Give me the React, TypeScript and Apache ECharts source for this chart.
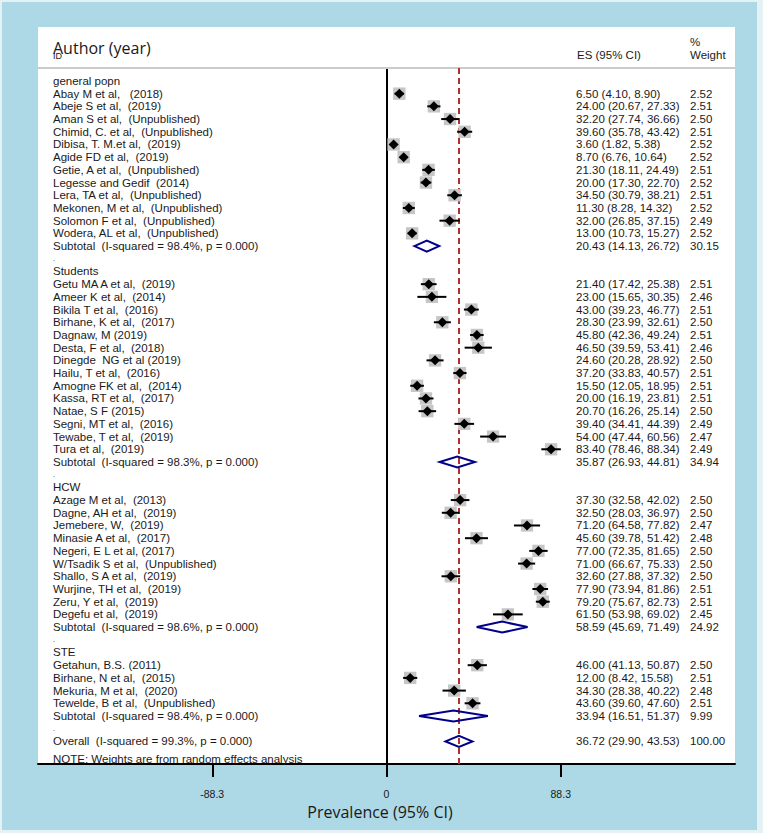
import React, { useEffect, useRef } from "react";
import * as echarts from "echarts";

type Study = [string, number, number, number, number]; // label, ES, lower, upper, weight

const groupNames = ["general popn", "Students", "HCW", "STE"];

const generalStudies: Study[] = [
  ["Abay M et al,   (2018)", 6.5, 4.1, 8.9, 2.52],
  ["Abeje S et al,  (2019)", 24.0, 20.67, 27.33, 2.51],
  ["Aman S et al,  (Unpublished)", 32.2, 27.74, 36.66, 2.5],
  ["Chimid, C. et al,  (Unpublished)", 39.6, 35.78, 43.42, 2.51],
  ["Dibisa, T. M.et al,  (2019)", 3.6, 1.82, 5.38, 2.52],
  ["Agide FD et al,  (2019)", 8.7, 6.76, 10.64, 2.52],
  ["Getie, A et al,  (Unpublished)", 21.3, 18.11, 24.49, 2.51],
  ["Legesse and Gedif  (2014)", 20.0, 17.3, 22.7, 2.52],
  ["Lera, TA et al,  (Unpublished)", 34.5, 30.79, 38.21, 2.51],
  ["Mekonen, M et al,  (Unpublished)", 11.3, 8.28, 14.32, 2.52],
  ["Solomon F et al,  (Unpublished)", 32.0, 26.85, 37.15, 2.49],
  ["Wodera, AL et al,  (Unpublished)", 13.0, 10.73, 15.27, 2.52],
];

const studentStudies: Study[] = [
  ["Getu MA A et al,  (2019)", 21.4, 17.42, 25.38, 2.51],
  ["Ameer K et al,  (2014)", 23.0, 15.65, 30.35, 2.46],
  ["Bikila T et al,  (2016)", 43.0, 39.23, 46.77, 2.51],
  ["Birhane, K et al,  (2017)", 28.3, 23.99, 32.61, 2.5],
  ["Dagnaw, M (2019)", 45.8, 42.36, 49.24, 2.51],
  ["Desta, F et al,  (2018)", 46.5, 39.59, 53.41, 2.46],
  ["Dinegde  NG et al (2019)", 24.6, 20.28, 28.92, 2.5],
  ["Hailu, T et al,  (2016)", 37.2, 33.83, 40.57, 2.51],
  ["Amogne FK et al,  (2014)", 15.5, 12.05, 18.95, 2.51],
  ["Kassa, RT et al,  (2017)", 20.0, 16.19, 23.81, 2.51],
  ["Natae, S F (2015)", 20.7, 16.26, 25.14, 2.5],
  ["Segni, MT et al,  (2016)", 39.4, 34.41, 44.39, 2.49],
  ["Tewabe, T et al,  (2019)", 54.0, 47.44, 60.56, 2.47],
  ["Tura et al,  (2019)", 83.4, 78.46, 88.34, 2.49],
];

const hcwStudies: Study[] = [
  ["Azage M et al,  (2013)", 37.3, 32.58, 42.02, 2.5],
  ["Dagne, AH et al,  (2019)", 32.5, 28.03, 36.97, 2.5],
  ["Jemebere, W,  (2019)", 71.2, 64.58, 77.82, 2.47],
  ["Minasie A et al,  (2017)", 45.6, 39.78, 51.42, 2.48],
  ["Negeri, E L et al, (2017)", 77.0, 72.35, 81.65, 2.5],
  ["W/Tsadik S et al,  (Unpublished)", 71.0, 66.67, 75.33, 2.5],
  ["Shallo, S A et al,  (2019)", 32.6, 27.88, 37.32, 2.5],
  ["Wurjine, TH et al,  (2019)", 77.9, 73.94, 81.86, 2.51],
  ["Zeru, Y et al,  (2019)", 79.2, 75.67, 82.73, 2.51],
  ["Degefu et al,  (2019)", 61.5, 53.98, 69.02, 2.45],
];

const steStudies: Study[] = [
  ["Getahun, B.S. (2011)", 46.0, 41.13, 50.87, 2.5],
  ["Birhane, N et al,  (2015)", 12.0, 8.42, 15.58, 2.51],
  ["Mekuria, M et al,  (2020)", 34.3, 28.38, 40.22, 2.48],
  ["Tewelde, B et al,  (Unpublished)", 43.6, 39.6, 47.6, 2.51],
];

// I-squared, ES, lower, upper, weight
const subtotals: [number, number, number, number, number][] = [
  [98.4, 20.43, 14.13, 26.72, 30.15],
  [98.3, 35.87, 26.93, 44.81, 34.94],
  [98.6, 58.59, 45.69, 71.49, 24.92],
  [98.4, 33.94, 16.51, 51.37, 9.99],
];

const overall: [number, number, number, number, number] = [99.3, 36.72, 29.9, 43.53, 100.0];

const xTicks = [-88.3, 0, 88.3];
const noteText = "NOTE: Weights are from random effects analysis";

type Row = {
  kind: "group" | "study" | "sub" | "sep" | "overall" | "note";
  label: string;
  pos: number;
  es?: number;
  lo?: number;
  hi?: number;
  w?: number;
};

function buildRows(): Row[] {
  const groups = [generalStudies, studentStudies, hcwStudies, steStudies];
  const rows: Row[] = [];
  let pos = 0;
  groups.forEach((studies, gi) => {
    rows.push({ kind: "group", label: groupNames[gi], pos: pos++ });
    studies.forEach((s) =>
      rows.push({ kind: "study", label: s[0], es: s[1], lo: s[2], hi: s[3], w: s[4], pos: pos++ })
    );
    const st = subtotals[gi];
    rows.push({
      kind: "sub",
      label: `Subtotal  (I-squared = ${st[0].toFixed(1)}%, p = 0.000)`,
      es: st[1],
      lo: st[2],
      hi: st[3],
      w: st[4],
      pos: pos++,
    });
    rows.push({ kind: "sep", label: ".", pos: pos++ });
  });
  rows.push({
    kind: "overall",
    label: `Overall  (I-squared = ${overall[0].toFixed(1)}%, p = 0.000)`,
    es: overall[1],
    lo: overall[2],
    hi: overall[3],
    w: overall[4],
    pos: pos++,
  });
  rows.push({ kind: "note", label: noteText, pos: pos + 0.35 });
  return rows;
}

const BODY_FONT = '"Liberation Sans", Arial, Helvetica, sans-serif';
const TITLE_FONT = '"Open Sans", "Noto Sans", sans-serif';
const TEXT_COLOR = "#1a1a1a";

export default function App() {
  const ref = useRef<HTMLDivElement>(null);

  useEffect(() => {
    if (!ref.current) return;
    const chart = echarts.init(ref.current, undefined, { renderer: "svg" });
    const rows = buildRows();

    const renderItem = (params: any, api: any) => {
      const r = rows[params.dataIndex];
      const y = api.coord([0, r.pos])[1];
      const children: any[] = [];
      children.push({
        type: "text",
        x: 53,
        y,
        z2: 5,
        style: {
          text: r.label,
          fill: TEXT_COLOR,
          fontSize: r.kind === "sep" ? 7 : 11.5,
          fontFamily: BODY_FONT,
          verticalAlign: "middle",
          align: "left",
        },
      });
      if (r.es !== undefined && r.lo !== undefined && r.hi !== undefined && r.w !== undefined) {
        const cx = api.coord([r.es, r.pos])[0];
        const xl = api.coord([r.lo, r.pos])[0];
        const xh = api.coord([r.hi, r.pos])[0];
        if (r.kind === "study") {
          const s = Math.sqrt(r.w) * 7.8;
          children.push({
            type: "rect",
            z2: 1,
            shape: { x: cx - s / 2, y: y - s / 2, width: s, height: s },
            style: { fill: "#c6c6c6" },
          });
          children.push({
            type: "line",
            z2: 2,
            shape: { x1: xl, y1: y, x2: xh, y2: y },
            style: { stroke: "#000", lineWidth: 2 },
          });
          const d = 5;
          children.push({
            type: "polygon",
            z2: 3,
            shape: { points: [[cx - d, y], [cx, y - d], [cx + d, y], [cx, y + d]] },
            style: { fill: "#000" },
          });
        } else {
          const h = 5.5;
          children.push({
            type: "polygon",
            z2: 3,
            shape: { points: [[xl, y], [cx, y - h], [xh, y], [cx, y + h]] },
            style: { fill: "none", stroke: "#00008b", lineWidth: 2 },
          });
        }
        children.push({
          type: "text",
          x: 576,
          y,
          style: {
            text: `${r.es.toFixed(2)} (${r.lo.toFixed(2)}, ${r.hi.toFixed(2)})`,
            fill: TEXT_COLOR,
            fontSize: 11.5,
            fontFamily: BODY_FONT,
            verticalAlign: "middle",
            align: "left",
          },
        });
        children.push({
          type: "text",
          x: 690,
          y,
          style: {
            text: r.w.toFixed(2),
            fill: TEXT_COLOR,
            fontSize: 11.5,
            fontFamily: BODY_FONT,
            verticalAlign: "middle",
            align: "left",
          },
        });
      }
      return { type: "group", children };
    };

    const option: any = {
      animation: false,
      backgroundColor: "#e4f2f6",
      graphic: [
        { type: "rect", z: -10, shape: { x: 2, y: 2, width: 755, height: 828 }, style: { fill: "#add8e6" } },
        { type: "rect", z: -9, shape: { x: 38, y: 27, width: 697, height: 737 }, style: { fill: "#ffffff" } },
        { type: "line", z: 1, shape: { x1: 38, y1: 68, x2: 735, y2: 68 }, style: { stroke: "#cccccc", lineWidth: 2 } },
        {
          type: "text",
          x: 53,
          y: 48,
          style: { text: "Author (year)", fill: TEXT_COLOR, fontSize: 16, fontFamily: TITLE_FONT, verticalAlign: "middle" },
        },
        {
          type: "text",
          x: 53,
          y: 56,
          style: { text: "ID", fill: TEXT_COLOR, fontSize: 9, fontFamily: BODY_FONT, verticalAlign: "middle" },
        },
        {
          type: "text",
          x: 577,
          y: 55,
          style: { text: "ES (95% CI)", fill: TEXT_COLOR, fontSize: 11.5, fontFamily: BODY_FONT, verticalAlign: "middle" },
        },
        {
          type: "text",
          x: 690,
          y: 42,
          style: { text: "%", fill: TEXT_COLOR, fontSize: 11.5, fontFamily: BODY_FONT, verticalAlign: "middle" },
        },
        {
          type: "text",
          x: 690,
          y: 55,
          style: { text: "Weight", fill: TEXT_COLOR, fontSize: 11.5, fontFamily: BODY_FONT, verticalAlign: "middle" },
        },
      ],
      grid: { left: 38, right: 28, top: 68, bottom: 69, containLabel: false },
      xAxis: {
        type: "value",
        min: -176.6,
        max: 176.6,
        position: "bottom",
        axisLine: { onZero: false, lineStyle: { color: "#000", width: 2 } },
        axisTick: { show: true, customValues: xTicks, length: 13, lineStyle: { color: "#000", width: 2 } },
        axisLabel: {
          customValues: xTicks,
          margin: 24,
          color: TEXT_COLOR,
          fontSize: 10.5,
          fontFamily: BODY_FONT,
          formatter: (v: number) => (v === 0 ? "0" : String(v)),
        },
        splitLine: { show: false },
        name: "Prevalence (95% CI)",
        nameLocation: "middle",
        nameGap: 32,
        nameTextStyle: { fontSize: 16, fontFamily: TITLE_FONT, color: TEXT_COLOR, padding: [0, 13, 0, 0] },
      },
      yAxis: {
        type: "value",
        inverse: true,
        min: -1.02,
        max: 53.78,
        axisLine: { show: true, onZero: true, lineStyle: { color: "#000", width: 2 } },
        axisTick: { show: false },
        axisLabel: { show: false },
        splitLine: { show: false },
      },
      series: [
        {
          type: "custom",
          renderItem,
          clip: false,
          z: 5,
          data: rows.map((r) => [r.es ?? 0, r.pos]),
          encode: { x: 0, y: 1 },
          markLine: {
            silent: true,
            symbol: ["none", "none"],
            label: { show: false },
            lineStyle: { color: "#b03030", type: [6, 4], width: 2 },
            data: [{ xAxis: overall[1] }],
            z: 1,
          },
        },
      ],
    };
    chart.setOption(option);
    return () => chart.dispose();
  }, []);

  return (
    <div
      ref={ref}
      style={{ position: "fixed", left: 0, top: 0, width: 763, height: 833 }}
    />
  );
}
